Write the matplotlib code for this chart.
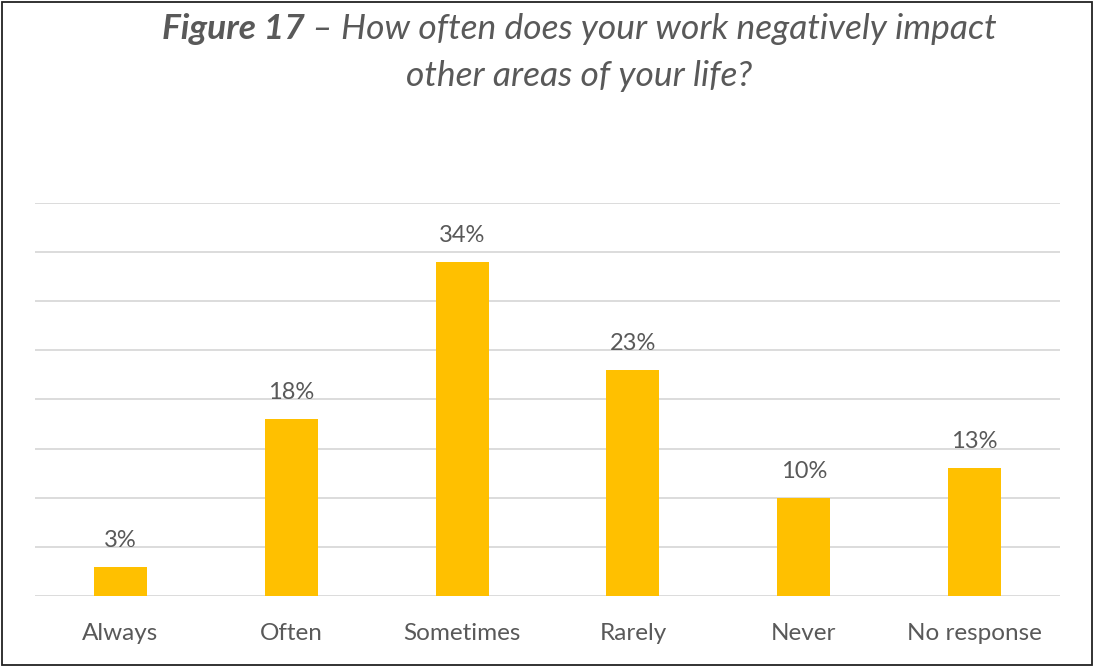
import matplotlib
matplotlib.use("Agg")
import matplotlib.pyplot as plt
from matplotlib.patches import Rectangle

categories = ["Always", "Often", "Sometimes", "Rarely", "Never", "No response"]
values = [3, 18, 34, 23, 10, 13]
value_labels = ["3%", "18%", "34%", "23%", "10%", "13%"]
title_bold = "Figure 17"
title_rest = " \u2013 How often does your work negatively impact"
title_line2 = "other areas of your life?"

FONT = "Lato"
TEXT_GRAY = "#595959"
BAR_COLOR = "#FFC000"
GRID_COLOR = "#D9D9D9"

fig = plt.figure(figsize=(10.95, 6.67), dpi=100)
ax = fig.add_axes([0.032, 0.1064, 0.936, 0.5893])

x = list(range(len(categories)))
ax.bar(x, values, width=0.31, color=BAR_COLOR, zorder=3)
ax.set_xlim(-0.5, len(categories) - 0.5)
ax.set_ylim(0, 40)
ax.set_yticks(range(0, 41, 5))
ax.yaxis.grid(True, color=GRID_COLOR, linewidth=1.3, zorder=0)
ax.tick_params(axis="y", left=False, labelleft=False)
ax.tick_params(axis="x", bottom=False, pad=16)
ax.set_xticks(x)
ax.set_xticklabels(categories, fontsize=17.5, color=TEXT_GRAY, family=FONT)
for s in ax.spines.values():
    s.set_visible(False)

for xi, v, lab in zip(x, values, value_labels):
    ax.annotate(lab, (xi, v), xytext=(0, 19), textcoords="offset points",
                ha="center", va="center", fontsize=17, color=TEXT_GRAY, family=FONT)

# Title: bold-italic lead followed by italic text, centred as one line
fig.canvas.draw()
renderer = fig.canvas.get_renderer()
cx, y1, y2 = 0.529, 0.956, 0.886
t1 = fig.text(0, y1, title_bold, fontsize=25.5, style="italic", weight="bold",
              color=TEXT_GRAY, family=FONT, va="center", ha="left")
t2 = fig.text(0, y1, title_rest, fontsize=25.5, style="italic",
              color=TEXT_GRAY, family=FONT, va="center", ha="left")
w1 = t1.get_window_extent(renderer).width / fig.bbox.width
w2 = t2.get_window_extent(renderer).width / fig.bbox.width
start = cx - (w1 + w2) / 2
t1.set_x(start)
t2.set_x(start + w1)
fig.text(cx, y2, title_line2, fontsize=25.5, style="italic", color=TEXT_GRAY,
         family=FONT, va="center", ha="center")

# Chart frame
fig.patches.append(Rectangle((0.002, 0.003), 0.995, 0.994, transform=fig.transFigure,
                             fill=False, edgecolor="#222222", linewidth=1.3))

fig.savefig("out.png", dpi=100)
